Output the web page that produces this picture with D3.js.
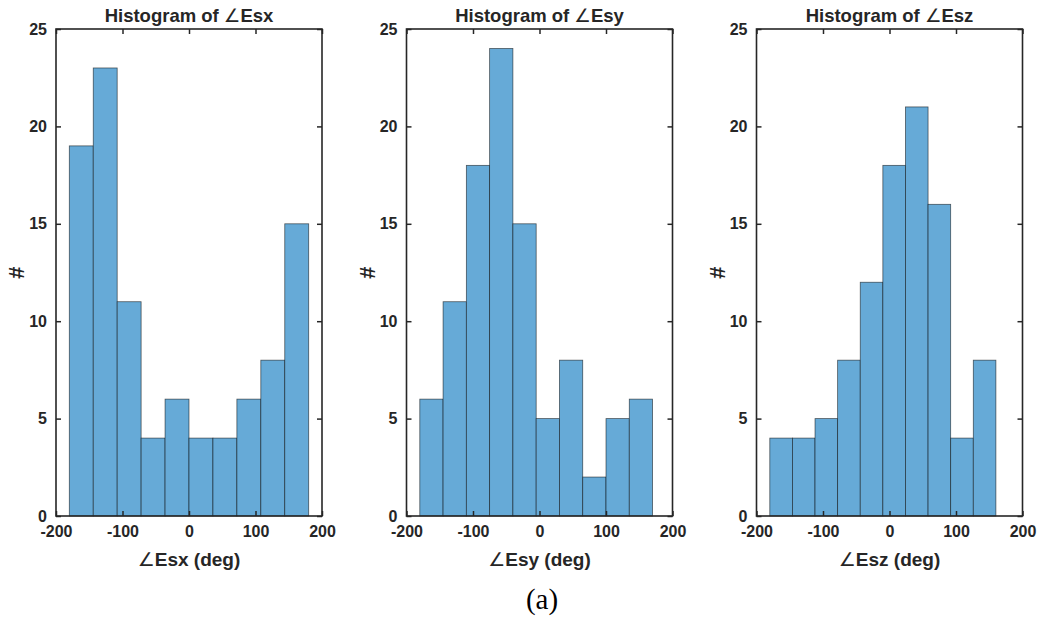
<!DOCTYPE html>
<html>
<head>
<meta charset="utf-8">
<script src="https://cdn.jsdelivr.net/npm/d3@7"></script>
<style>
  body { margin: 0; background: #fff; }
  svg text { font-family: "Liberation Sans", Arial, sans-serif; font-weight: bold; fill: #262626; }
  .ang { font-family: "DejaVu Sans", sans-serif; font-weight: normal; }
  .caption { font-family: "Liberation Serif", "Times New Roman", serif; font-weight: normal; fill: #000; }
</style>
</head>
<body>
<div id="chart"></div>
<script>
// Histogram counts
const names = ['Esx', 'Esy', 'Esz'];
const binStart = [-180, -180, -180];
const binWidth = [36, 35, 34];
const countsEsx = [19, 23, 11, 4, 6, 4, 4, 6, 8, 15];
const countsEsy = [6, 11, 18, 24, 15, 5, 8, 2, 5, 6];
const countsEsz = [4, 4, 5, 8, 12, 18, 21, 16, 4, 8];
const allCounts = [countsEsx, countsEsy, countsEsz];
const xTicks = [-200, -100, 0, 100, 200];
const yTicks = [0, 5, 10, 15, 20, 25];

const W = 1042, H = 618;
const panelLeft = [56, 406.5, 756.5];
const panelW = 266;
const plotTop = 29, plotBottom = 516;

const svg = d3.select('#chart').append('svg').attr('width', W).attr('height', H);

names.forEach((name, i) => {
  const x = d3.scaleLinear().domain([-200, 200]).range([panelLeft[i], panelLeft[i] + panelW]);
  const y = d3.scaleLinear().domain([0, 25]).range([plotBottom, plotTop]);
  const g = svg.append('g');
  const bins = allCounts[i].map((c, k) => ({
    x0: binStart[i] + k * binWidth[i],
    x1: binStart[i] + (k + 1) * binWidth[i],
    c
  }));

  // bars
  g.selectAll('rect.bar').data(bins).join('rect')
    .attr('class', 'bar')
    .attr('x', d => x(d.x0))
    .attr('y', d => y(d.c))
    .attr('width', d => x(d.x1) - x(d.x0))
    .attr('height', d => y(0) - y(d.c))
    .attr('fill', '#66aad7')
    .attr('stroke', '#000')
    .attr('stroke-opacity', 0.6)
    .attr('stroke-width', 0.8);

  // axes, MATLAB style: inward ticks, boxed
  const tick = 5;
  const axCol = '#262626';
  const fmt = d => String(d);  // plain hyphen minus like the original
  g.append('g').attr('transform', `translate(0,${plotBottom})`)
    .call(d3.axisBottom(x).tickValues(xTicks).tickFormat(fmt).tickSizeInner(-tick).tickSizeOuter(0).tickPadding(10))
    .call(a => a.select('.domain').remove());
  g.append('g').attr('transform', `translate(0,${plotTop})`)
    .call(d3.axisTop(x).tickValues(xTicks).tickSizeInner(-tick).tickSizeOuter(0).tickFormat(''))
    .call(a => a.select('.domain').remove());
  g.append('g').attr('transform', `translate(${panelLeft[i]},0)`)
    .call(d3.axisLeft(y).tickValues(yTicks).tickFormat(fmt).tickSizeInner(-tick).tickSizeOuter(0).tickPadding(9))
    .call(a => a.select('.domain').remove());
  g.append('g').attr('transform', `translate(${panelLeft[i] + panelW},0)`)
    .call(d3.axisRight(y).tickValues(yTicks).tickSizeInner(-tick).tickSizeOuter(0).tickFormat(''))
    .call(a => a.select('.domain').remove());
  g.selectAll('.tick line').attr('stroke', axCol).attr('stroke-width', 1.5);
  g.selectAll('.tick text').attr('font-size', 16).attr('font-family', '"Liberation Sans", Arial, sans-serif')
    .attr('font-weight', 'bold').attr('fill', axCol);

  g.append('rect')
    .attr('x', panelLeft[i]).attr('y', plotTop)
    .attr('width', panelW).attr('height', plotBottom - plotTop)
    .attr('fill', 'none').attr('stroke', axCol).attr('stroke-width', 1.6);

  const cx = panelLeft[i] + panelW / 2;
  const title = g.append('text').attr('x', cx).attr('y', 22).attr('text-anchor', 'middle')
    .attr('font-size', 18.5).attr('fill', '#000');
  title.append('tspan').text('Histogram of  ');
  title.append('tspan').attr('class', 'ang').text('\u2220');
  title.append('tspan').text(name);

  const xl = g.append('text').attr('x', cx).attr('y', 566).attr('text-anchor', 'middle')
    .attr('font-size', 19);
  xl.append('tspan').attr('class', 'ang').text('\u2220');
  xl.append('tspan').text(name + ' (deg)');

  g.append('text')
    .attr('transform', `translate(${panelLeft[i] - 32},${(plotTop + plotBottom) / 2}) rotate(-90)`)
    .attr('text-anchor', 'middle').attr('font-size', 22).text('#');
});

svg.append('text').attr('class', 'caption')
  .attr('x', 542).attr('y', 609).attr('text-anchor', 'middle')
  .attr('font-size', 29).text('(a)');
</script>
</body>
</html>
